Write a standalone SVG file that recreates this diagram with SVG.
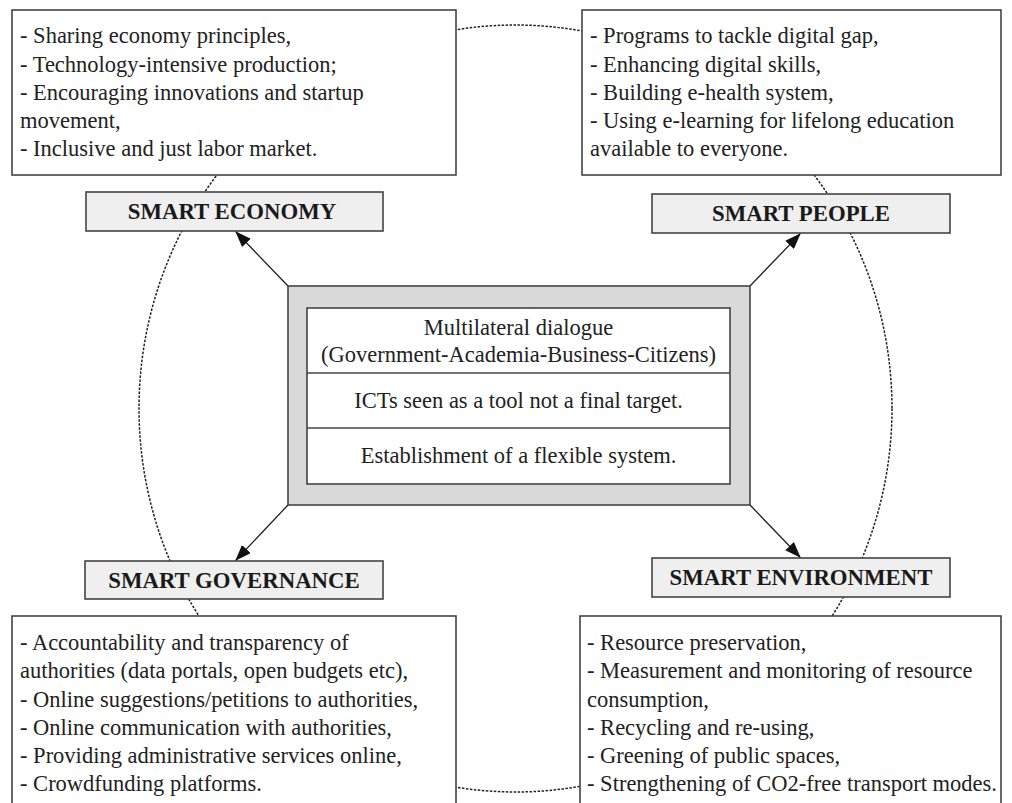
<svg xmlns="http://www.w3.org/2000/svg" width="1012" height="803" viewBox="0 0 1012 803">
<style>
.txt{font-family:"Liberation Serif","Times New Roman",serif;font-size:22.5px;fill:#222}
.lbl{font-family:"Liberation Serif","Times New Roman",serif;font-size:22.8px;font-weight:bold;fill:#1a1a1a;text-anchor:middle}
.ctr{text-anchor:middle}
.box{fill:#fff;stroke:#444;stroke-width:1.6}
.lbox{fill:#efefef;stroke:#444;stroke-width:1.6}
.conn{stroke:#222;stroke-width:1.3;fill:none}
</style>
<defs>
<marker id="ah" markerWidth="16" markerHeight="12" refX="15" refY="6" orient="auto" markerUnits="userSpaceOnUse">
<path d="M0,0 L16,6 L0,12 Z" fill="#111"/>
</marker>
</defs>
<rect width="1012" height="803" fill="#fff"/>
<ellipse cx="515.5" cy="408.5" rx="376.5" ry="383.5" fill="none" stroke="#222" stroke-width="1.5" stroke-dasharray="2.5,1.5"/>

<g id="economy-text">
<rect class="box" x="12" y="10" width="444" height="165"/>
<text class="txt" x="20" y="43">- Sharing economy principles,</text>
<text class="txt" x="20" y="71.5">- Technology-intensive production;</text>
<text class="txt" x="20" y="100">- Encouraging innovations and startup</text>
<text class="txt" x="20" y="128">movement,</text>
<text class="txt" x="20" y="156">- Inclusive and just labor market.</text>
</g>
<g id="people-text">
<rect class="box" x="582" y="10" width="419" height="165"/>
<text class="txt" x="590" y="43">- Programs to tackle digital gap,</text>
<text class="txt" x="590" y="71.5">- Enhancing digital skills,</text>
<text class="txt" x="590" y="100">- Building e-health system,</text>
<text class="txt" x="590" y="128">- Using e-learning for lifelong education</text>
<text class="txt" x="590" y="156">available to everyone.</text>
</g>
<g id="smart-economy">
<rect class="lbox" x="86" y="192" width="297" height="39"/>
<text class="lbl" x="232" y="219">SMART ECONOMY</text>
</g>
<g id="smart-people">
<rect class="lbox" x="652" y="194" width="298" height="39"/>
<text class="lbl" x="801" y="221">SMART PEOPLE</text>
</g>
<g id="center">
<rect x="288" y="286" width="462" height="219" fill="#d9d9d9" stroke="#444" stroke-width="1.6"/>
<rect class="box" x="307" y="308" width="423" height="176"/>
<line x1="307" y1="373" x2="730" y2="373" stroke="#444" stroke-width="1.6"/>
<line x1="307" y1="428" x2="730" y2="428" stroke="#444" stroke-width="1.6"/>
<text class="txt ctr" x="518.5" y="335">Multilateral dialogue</text>
<text class="txt ctr" x="518.5" y="362">(Government-Academia-Business-Citizens)</text>
<text class="txt ctr" x="518.5" y="408">ICTs seen as a tool not a final target.</text>
<text class="txt ctr" x="518.5" y="463">Establishment of a flexible system.</text>
</g>
<g id="smart-governance">
<rect class="lbox" x="85" y="561" width="298" height="38"/>
<text class="lbl" x="234" y="588">SMART GOVERNANCE</text>
</g>
<g id="smart-environment">
<rect class="lbox" x="652" y="558" width="298" height="39"/>
<text class="lbl" x="801" y="585">SMART ENVIRONMENT</text>
</g>
<g id="governance-text">
<rect class="box" x="12" y="616" width="444" height="195"/>
<text class="txt" x="20" y="650">- Accountability and transparency of</text>
<text class="txt" x="20" y="678">authorities (data portals, open budgets etc),</text>
<text class="txt" x="20" y="707">- Online suggestions/petitions to authorities,</text>
<text class="txt" x="20" y="735">- Online communication with authorities,</text>
<text class="txt" x="20" y="763">- Providing administrative services online,</text>
<text class="txt" x="20" y="791">- Crowdfunding platforms.</text>
</g>
<g id="environment-text">
<rect class="box" x="580" y="616" width="421" height="195"/>
<text class="txt" x="587" y="650">- Resource preservation,</text>
<text class="txt" x="587" y="678">- Measurement and monitoring of resource</text>
<text class="txt" x="587" y="707">consumption,</text>
<text class="txt" x="587" y="735">- Recycling and re-using,</text>
<text class="txt" x="587" y="763">- Greening of public spaces,</text>
<text class="txt" x="587" y="791">- Strengthening of CO2-free transport modes.</text>
</g>
<g id="connectors">
<line class="conn" x1="288" y1="286" x2="236" y2="232" marker-end="url(#ah)"/>
<line class="conn" x1="750" y1="286" x2="800" y2="234" marker-end="url(#ah)"/>
<line class="conn" x1="288" y1="505" x2="236" y2="560" marker-end="url(#ah)"/>
<line class="conn" x1="750" y1="505" x2="800" y2="557" marker-end="url(#ah)"/>
</g>
</svg>
